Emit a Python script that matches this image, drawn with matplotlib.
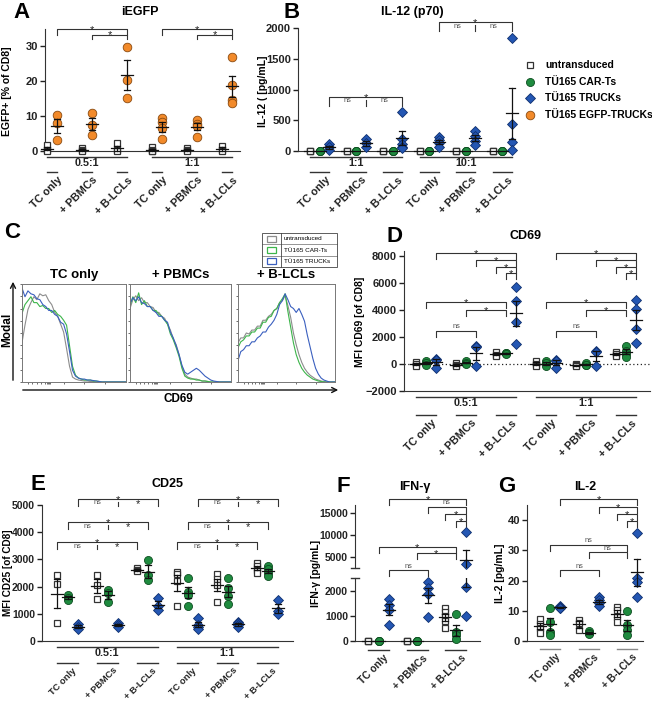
import numpy as np
import matplotlib
matplotlib.use("Agg")
import matplotlib.pyplot as plt
import matplotlib.transforms as mtransforms
from matplotlib.lines import Line2D
from matplotlib.patches import Rectangle, FancyArrowPatch

plt.rcParams["font.family"] = ["Liberation Sans", "DejaVu Sans"]
plt.rcParams["font.weight"] = "bold"
plt.rcParams["axes.titleweight"] = "bold"

W, H = 652, 703

# ---------------------------------------------------------------- data
cond = ["TC only", "+ PBMCs", "+ B-LCLs"]
legend_labels = ["untransduced", "TÜ165 CAR-Ts", "TÜ165 TRUCKs", "TÜ165 EGFP-TRUCKs"]

# A: iEGFP (% of CD8), groups: 0.5:1 x3 then 1:1 x3
A_untr = [[1.8, 0.3, 0.0], [0.8, 0.3, 0.0], [2.3, 0.2, 0.0],
          [1.2, 0.3, 0.0, 0.0], [0.9, 0.2, 0.0], [1.5, 0.2, 0.0]]
A_egfp = [[10.2, 8.0, 3.2], [11.0, 7.5, 4.7], [29.8, 20.3, 15.2],
          [9.4, 8.2, 6.6, 3.3], [8.8, 7.7, 7.2, 4.0], [26.9, 18.9, 14.6, 13.8]]

# B: IL-12 (p70) pg/mL, groups: 1:1 x3 then 10:1 x3
B_untr = [[0, 0, 0]] * 6
B_car = [[0, 0, 0]] * 6
B_truck = [[110, 60, 20], [190, 130, 60], [635, 200, 110, 60, 50],
           [230, 180, 130, 70], [320, 250, 170, 100], [1830, 440, 150, 20]]

# C: CD69 histograms (% of mode) across each box, untransduced / CAR-T / TRUCK
C_tc = [
    [40, 58, 74, 81, 87, 84, 90, 88, 89, 83, 79, 71, 67, 59, 51, 34, 16, 5, 3, 2, 1.5, 1, 1, 0.5, 0.5, 0, 0, 0, 0, 0, 0, 0, 0, 0, 0, 0],
    [70, 79, 83, 87, 81, 81, 77, 78, 75, 75, 71, 73, 69, 67, 63, 58, 37, 16, 7, 4, 3, 2, 2, 2, 1, 1, 0.5, 0, 0, 0, 0, 0, 0, 0, 0, 0],
    [96, 87, 93, 90, 89, 85, 84, 79, 77, 73, 73, 69, 67, 61, 59, 49, 31, 12, 6, 4, 3, 3, 2, 2, 1.5, 1, 0.5, 0, 0, 0, 0, 0, 0, 0, 0, 0],
]
C_pbmc = [
    [75, 84, 88, 83, 86, 81, 81, 77, 76, 71, 71, 67, 65, 59, 53, 44, 38, 28, 16, 8, 5, 4, 3, 3, 2, 1, 1, 0.5, 0, 0, 0, 0, 0, 0, 0, 0],
    [78, 87, 81, 91, 79, 83, 77, 77, 73, 73, 69, 67, 63, 59, 49, 43, 35, 26, 14, 6, 4, 3, 3, 2, 2, 1, 1, 0.5, 0, 0, 0, 0, 0, 0, 0, 0],
    [80, 86, 83, 87, 81, 80, 77, 77, 73, 71, 67, 67, 63, 61, 51, 45, 37, 28, 17, 10, 8, 10, 12, 14, 12, 9, 6, 4, 2, 1, 0.5, 0, 0, 0, 0, 0],
]
C_blcl = [
    [40, 45, 45, 50, 49, 53, 53, 57, 57, 63, 63, 67, 69, 73, 75, 81, 83, 88, 78, 66, 50, 38, 28, 20, 14, 10, 7, 5, 3, 2, 1, 0.5, 0, 0, 0, 0],
    [35, 41, 43, 47, 47, 51, 51, 55, 55, 61, 61, 66, 67, 73, 75, 81, 85, 90, 72, 56, 40, 28, 20, 14, 10, 7, 5, 3, 2, 1, 0.5, 0, 0, 0, 0, 0],
    [22, 31, 33, 37, 37, 41, 41, 45, 47, 51, 51, 56, 59, 63, 69, 79, 83, 90, 84, 77, 75, 71, 75, 69, 62, 48, 36, 24, 14, 8, 4, 2, 1, 0, 0, 0],
]
C_legend = ["untransduced", "TÜ165 CAR-Ts", "TÜ165 TRUCKs"]

# D: MFI CD69, groups 0.5:1 x3 then 1:1 x3
D_untr = [[150, 0, -150], [50, -100, -150], [900, 700, 600],
          [200, 0, -150], [0, -100, -150], [900, 750, 600]]
D_car = [[250, 50, -100], [200, 100, 0], [850, 800, 750],
         [200, 50, -150], [50, -50, -100], [1350, 1000, 750, 550]]
D_truck = [[380, 300, -300], [1300, 1250, -150], [5700, 4700, 3100, 1500],
           [330, 250, -300], [1000, 900, -150], [4750, 4100, 2600, 1550]]

# E: MFI CD25
E_untr = [[2430, 2100, 680], [2430, 2050, 1560], [2680, 2620, 2560],
          [2550, 2480, 2200, 1280], [2460, 2280, 2050, 1450], [2850, 2750, 2600, 2500]]
E_car = [[1700, 1580, 1520], [1880, 1780, 1430], [2990, 2420, 2250],
         [2330, 1800, 1700, 1300], [2300, 1950, 1650, 1350], [2750, 2650, 2500, 2400]]
E_truck = [[620, 520, 430], [680, 590, 500], [1570, 1300, 1150],
           [830, 600, 520, 430], [700, 650, 580, 500], [1500, 1100, 1000]]

# F: IFN-gamma pg/mL
F_untr = [[0, 0, 0], [0, 0, 0], [1300, 1150, 980, 800, 510]]
F_car = [[0, 0, 0], [0, 0, 0], [1060, 350, 240, 80]]
F_truck = [[1660, 1420, 1230, 640], [2330, 2090, 1860, 960], [10700, 3400, 2150, 1000]]

# G: IL-2 pg/mL
G_untr = [[7.2, 5.5, 4.2, 2.6], [7.0, 6.0, 3.5], [11.2, 10.4, 8.0, 6.3]]
G_car = [[10.9, 6.4, 3.1, 2.0], [3.2, 2.8, 2.5, 2.2], [10.0, 5.3, 3.5, 2.0]]
G_truck = [[11.5, 11.2, 11.0, 10.8], [14.5, 13.5, 12.5, 11.5], [35.7, 20.9, 19.6, 14.6]]

# ---------------------------------------------------------------- styles
SQ = dict(marker="s", ms=4.8, mfc="white", mec="#333333", mew=0.9)
GR = dict(marker="o", ms=5.8, mfc="#1f8b3f", mec="#0d4d20", mew=0.6)
BL = dict(marker="D", ms=4.6, mfc="#2457b3", mec="#0f2f6e", mew=0.6)
OR = dict(marker="o", ms=6.2, mfc="#f28a2a", mec="#8a4a10", mew=0.6)
LINE = "#333333"
TICK_FS = 8
LAB_FS = 7.8

fig = plt.figure(figsize=(W / 100, H / 100), dpi=100)
# pixel coordinates, y counted from the top
PX = mtransforms.Affine2D().scale(1 / W, -1 / H).translate(0, 1) + fig.transFigure


def add_ax(x0, y0, x1, y1):
    return fig.add_axes([x0 / W, 1 - y1 / H, (x1 - x0) / W, (y1 - y0) / H])


def ftext(x, y, s, **kw):
    kw.setdefault("ha", "center")
    kw.setdefault("va", "center")
    fig.text(x, y, s, transform=PX, **kw)


def blend(ax):
    return mtransforms.blended_transform_factory(ax.transData, PX)


def style_ax(ax, xlim, ylim, yticks, bottom=True, fs=TICK_FS):
    ax.set_xlim(xlim)
    ax.set_ylim(ylim)
    ax.set_yticks(yticks)
    ax.set_xticks([])
    ax.spines["top"].set_visible(False)
    ax.spines["right"].set_visible(False)
    if not bottom:
        ax.spines["bottom"].set_visible(False)
    for s in ax.spines.values():
        s.set_color(LINE)
    ax.tick_params(axis="y", length=3.5, width=1, labelsize=fs, pad=1.5, colors="#222")
    ax.patch.set_alpha(0)


def dots(ax, series, styles, offs, S, lim=None):
    for vals, st, off in zip(series, styles, offs):
        for g, v in enumerate(vals):
            x = g + off
            v = np.asarray(v, float)
            pts = v if lim is None else v[(v >= lim[0]) & (v <= lim[1])]
            if len(pts):
                ax.plot([x] * len(pts), pts, ls="none", clip_on=False, zorder=3, **st)
            m = v.mean()
            se = v.std(ddof=1) / np.sqrt(len(v))
            inside = lim is None or (m - se >= lim[0] and m + se <= lim[1])
            kw = dict(color="#111", lw=0.9, zorder=4, clip_on=not inside)
            ax.plot([x - 6 / S, x + 6 / S], [m, m], **kw)
            if se > 0:
                ax.plot([x, x], [m - se, m + se], **kw)
                for yy in (m - se, m + se):
                    ax.plot([x - 3 / S, x + 3 / S], [yy, yy], **kw)


def star(ax, T, x, y):
    ax.text(x, y, "*", transform=T, ha="center", va="baseline",
            fontsize=8, fontweight="normal", color="#222")


def bracket(ax, x1, x2, y, lab, drop=6):
    T = blend(ax)
    ax.add_line(Line2D([x1, x1, x2, x2], [y + drop, y, y, y + drop], transform=T,
                       color=LINE, lw=0.8, clip_on=False))
    if lab == "*":
        star(ax, T, (x1 + x2) / 2, y + 3.6)
    else:
        ax.text((x1 + x2) / 2, y - 0.5, lab, transform=T, ha="center", va="bottom",
                fontsize=5.3, fontweight="normal", color="#555")


def bracket3(ax, x1, xm, x2, y, top, left, right, drop=7):
    T = blend(ax)
    ax.add_line(Line2D([x1, x1, x2, x2], [y + drop, y, y, y + drop], transform=T,
                       color=LINE, lw=0.8, clip_on=False))
    ax.add_line(Line2D([xm, xm], [y + 3, y + drop], transform=T, color=LINE, lw=0.8, clip_on=False))
    star(ax, T, (x1 + x2) / 2, y + 3.6)
    for xx, lab in (((x1 + xm) / 2, left), ((xm + x2) / 2, right)):
        if lab == "*":
            star(ax, T, xx, y + 8)
        else:
            ax.text(xx, y + 0.5, lab, transform=T, ha="center", va="top",
                    fontsize=5.3, fontweight="normal", color="#555")


def group_marks(ax, S, offs, n, y_short, y_ratio=None, ratios=(), short_color=LINE, fs=LAB_FS):
    T = blend(ax)
    w = offs[-1]
    for g in range(n):
        ax.add_line(Line2D([g, g + w], [y_short, y_short], transform=T, color=short_color,
                           lw=1, clip_on=False))
        ax.text(g + w / 2 + 5 / S, y_short + 3, cond[g % 3], transform=T, rotation=45,
                ha="right", va="top", rotation_mode="anchor", fontsize=fs, color="#222")
    for i, r in enumerate(ratios):
        a, b = 3 * i, 3 * i + 2 + w
        ax.add_line(Line2D([a, b], [y_ratio, y_ratio], transform=T, color=LINE, lw=1,
                           clip_on=False))
        ax.text((a + b) / 2, y_ratio + 1.5, r, transform=T, ha="center", va="top",
                fontsize=LAB_FS, color="#222")


# ---------------------------------------------------------------- panel A
S = 35.0
offs = [0, 10 / S]
ax = add_ax(45, 28.5, 240, 151)
dots(ax, [A_untr, A_egfp], [SQ, OR], offs, S)
style_ax(ax, ((45 - 47) / S, (240 - 47) / S), (0, 35), [0, 10, 20, 30])
for b in (0, 3):
    bracket(ax, b + offs[1], b + 2 + offs[1], 29, "*")
    bracket(ax, b + 1 + offs[1], b + 2 + offs[1], 34.5, "*", drop=4)
group_marks(ax, S, offs, 6, 172, 157, ["0.5:1", "1:1"])
ftext(22, 13, "A", fontsize=16)
ftext(140, 12, "iEGFP", fontsize=9)
ftext(7, 91, "EGFP+ [% of CD8]", rotation=90, fontsize=7.5)

# ---------------------------------------------------------------- panel B
S = 36.5
offs = [0, 9.7 / S, 19.4 / S]
ax = add_ax(298, 28, 515, 151)
dots(ax, [B_untr, B_car, B_truck], [SQ, GR, BL], offs, S)
style_ax(ax, ((298 - 310) / S, (515 - 310) / S), (0, 2000), [0, 500, 1000, 1500, 2000])
bracket3(ax, offs[2], 1 + offs[2], 2 + offs[2], 97, "*", "ns", "ns", drop=9)
bracket3(ax, 3 + offs[2], 4 + offs[2], 5 + offs[2], 22, "*", "ns", "ns", drop=9)
group_marks(ax, S, offs, 6, 172, 157, ["1:1", "10:1"])
ftext(292, 13, "B", fontsize=16)
ftext(412, 12, "IL-12 (p70)", fontsize=9)
ftext(263, 91, "IL-12 ( [pg/mL]", rotation=90, fontsize=7.5)

for i, (lab, st) in enumerate(zip(legend_labels, [SQ, GR, BL, OR])):
    y = 65 + i * 16.7
    fig.add_artist(Line2D([530], [y], transform=PX, ls="none", **st))
    ftext(545, y, lab, ha="left", fontsize=7.5)

# ---------------------------------------------------------------- panel C
hx = np.linspace(0, 100, 36)
hist_cols = ["#8c8c8c", "#3cb54a", "#3a5fbf"]
boxes = [(22, 126), (130, 231), (238, 335)]
for (x0, x1), title, curves in zip(boxes, cond, [C_tc, C_pbmc, C_blcl]):
    ax = add_ax(x0, 284, x1, 382)
    for ys, col in zip(curves, hist_cols):
        ax.plot(hx, ys, color=col, lw=0.8)
    ax.set_xlim(0, 100)
    ax.set_ylim(0, 100)
    ax.set_xticks([6, 10, 14, 18, 22, 24, 25, 26, 27, 40, 60, 80])
    ax.set_yticks(np.arange(0, 101, 12.5))
    ax.tick_params(length=1.5, width=0.6, labelbottom=False, labelleft=False, colors="#555")
    for s in ax.spines.values():
        s.set_color("#777")
        s.set_linewidth(0.7)
    ftext((x0 + x1) / 2, 275, title, fontsize=9.5)

fig.add_artist(FancyArrowPatch((13, 383), (13, 279), transform=PX, arrowstyle="->",
                               mutation_scale=9, lw=1, color="#111"))
fig.add_artist(FancyArrowPatch((20, 390), (341, 390), transform=PX, arrowstyle="->",
                               mutation_scale=9, lw=1, color="#111"))
ftext(7, 330, "Modal", rotation=90, fontsize=8.5)
ftext(178, 399, "CD69", fontsize=8.5)
ftext(12, 233, "C", fontsize=16)

# legend table
fig.add_artist(Rectangle((262, 233), 75, 34, transform=PX, fill=False, ec="#444", lw=0.6))
fig.add_artist(Line2D([281, 281], [233, 267], transform=PX, color="#444", lw=0.6))
for i, (lab, col) in enumerate(zip(C_legend, hist_cols)):
    y = 238.7 + i * 11.3
    if i:
        fig.add_artist(Line2D([262, 337], [233 + i * 11.3] * 2, transform=PX, color="#444", lw=0.4))
    fig.add_artist(Rectangle((267, y - 3), 9, 6, transform=PX, fill=False, ec=col, lw=0.9))
    ftext(284, y, lab, ha="left", fontsize=4.6, fontweight="normal")

# ---------------------------------------------------------------- panel D
S = 40.0
offs = [0, 0.25, 0.5]
ax = add_ax(404, 250.6, 650, 391)
ax.axhline(0, color="#222", ls=(0, (1, 2)), lw=0.9, zorder=1)
dots(ax, [D_untr, D_car, D_truck], [SQ, GR, BL], offs, S)
style_ax(ax, ((404 - 416) / S, (650 - 416) / S), (-2000, 8400),
         [-2000, 0, 2000, 4000, 6000, 8000])
for b in (0, 3):
    bracket(ax, b + 0.5, b + 2.5, 253, "*")
    bracket(ax, b + 1.5, b + 2.5, 260, "*")
    bracket(ax, b + 2.0, b + 2.5, 267, "*")
    bracket(ax, b + 2.25, b + 2.5, 273, "*")
    bracket(ax, b + 0.25, b + 2.25, 302, "*")
    bracket(ax, b + 1.25, b + 2.25, 310, "*")
    bracket(ax, b + 0.5, b + 1.5, 331, "ns")
group_marks(ax, S, offs, 6, 415, 397, ["0.5:1", "1:1"])
ftext(395, 236, "D", fontsize=16)
ftext(525, 236, "CD69", fontsize=9)
ftext(360, 322, "MFI CD69 [of CD8]", rotation=90, fontsize=7.5)

# ---------------------------------------------------------------- panel E
S = 40.0
offs = [0, 10.5 / S, 20.5 / S]
ax = add_ax(42, 505, 293, 641)
dots(ax, [E_untr, E_car, E_truck], [SQ, GR, BL], offs, S)
style_ax(ax, ((42 - 57) / S, (293 - 57) / S), (0, 5000), [0, 1000, 2000, 3000, 4000, 5000],
         fs=7.5)
for b in (0, 3):
    bracket3(ax, b + offs[2], b + 1 + offs[2], b + 2 + offs[2], 499, "*", "ns", "*")
    bracket3(ax, b + offs[1], b + 1 + offs[1], b + 2 + offs[1], 522, "*", "ns", "*")
    bracket3(ax, b, b + 1, b + 2, 542, "*", "ns", "*")
group_marks(ax, S, offs, 6, 663, 647, ["0.5:1", "1:1"], fs=6.7)
ftext(38, 484, "E", fontsize=16)
ftext(167, 484, "CD25", fontsize=9)
ftext(8, 573, "MFI CD25 [of CD8]", rotation=90, fontsize=7.2)

# ---------------------------------------------------------------- panel F (broken axis)
S = 38.5
offs = [0, 10.5 / S, 21 / S]
xl = ((355 - 368) / S, (480 - 368) / S)
lo = add_ax(355, 578, 480, 641)
hi = add_ax(355, 505, 480, 568)
dots(lo, [F_untr, F_car, F_truck], [SQ, GR, BL], offs, S, lim=(0, 2500))
dots(hi, [F_untr, F_car, F_truck], [SQ, GR, BL], offs, S, lim=(2500, 16800))
style_ax(lo, xl, (0, 2500), [0, 1000, 2000], fs=7.5)
style_ax(hi, xl, (2500, 16800), [5000, 10000, 15000], bottom=False, fs=7.5)
for yb in (568, 578):
    fig.add_artist(Line2D([351, 359], [yb, yb], transform=PX, color=LINE, lw=1))
bracket(hi, offs[2], 2 + offs[2], 499, "*")
bracket(hi, 1 + offs[2], 2 + offs[2], 507, "ns")
bracket(hi, 2.0, 2 + offs[2], 514, "*")
bracket(hi, 2 + offs[1], 2 + offs[2], 521, "*")
bracket(hi, offs[1], 2 + offs[1], 547, "*")
bracket(hi, 1 + offs[1], 2 + offs[1], 553, "*")
bracket(hi, offs[2], 1 + offs[2], 570, "ns")
group_marks(lo, S, offs, 3, 650, fs=7.3)
ftext(343, 487, "F", fontsize=16)
ftext(415, 487, "IFN-γ", fontsize=9)
ftext(316, 573, "IFN-γ [pg/mL]", rotation=90, fontsize=7.5)

# ---------------------------------------------------------------- panel G
S = 38.5
offs = [0, 10 / S, 20 / S]
ax = add_ax(527, 505, 643, 641)
dots(ax, [G_untr, G_car, G_truck], [SQ, GR, BL], offs, S)
style_ax(ax, ((527 - 540) / S, (643 - 540) / S), (0, 45), [0, 10, 20, 30, 40])
bracket(ax, offs[2], 2 + offs[2], 499, "*")
bracket(ax, 1 + offs[2], 2 + offs[2], 507, "*")
bracket(ax, 2.0, 2 + offs[2], 514, "*")
bracket(ax, 2 + offs[1], 2 + offs[2], 521, "*")
bracket(ax, offs[1], 2 + offs[1], 545, "ns")
bracket(ax, 1 + offs[1], 2 + offs[1], 552, "ns")
bracket(ax, offs[2], 1 + offs[2], 570, "ns")
group_marks(ax, S, offs, 3, 649, short_color="#888888", fs=7.3)
ftext(507, 487, "G", fontsize=16)
ftext(585, 487, "IL-2", fontsize=9)
ftext(500, 573, "IL-2 [pg/mL]", rotation=90, fontsize=7.5)

fig.savefig("out.png", dpi=100)
